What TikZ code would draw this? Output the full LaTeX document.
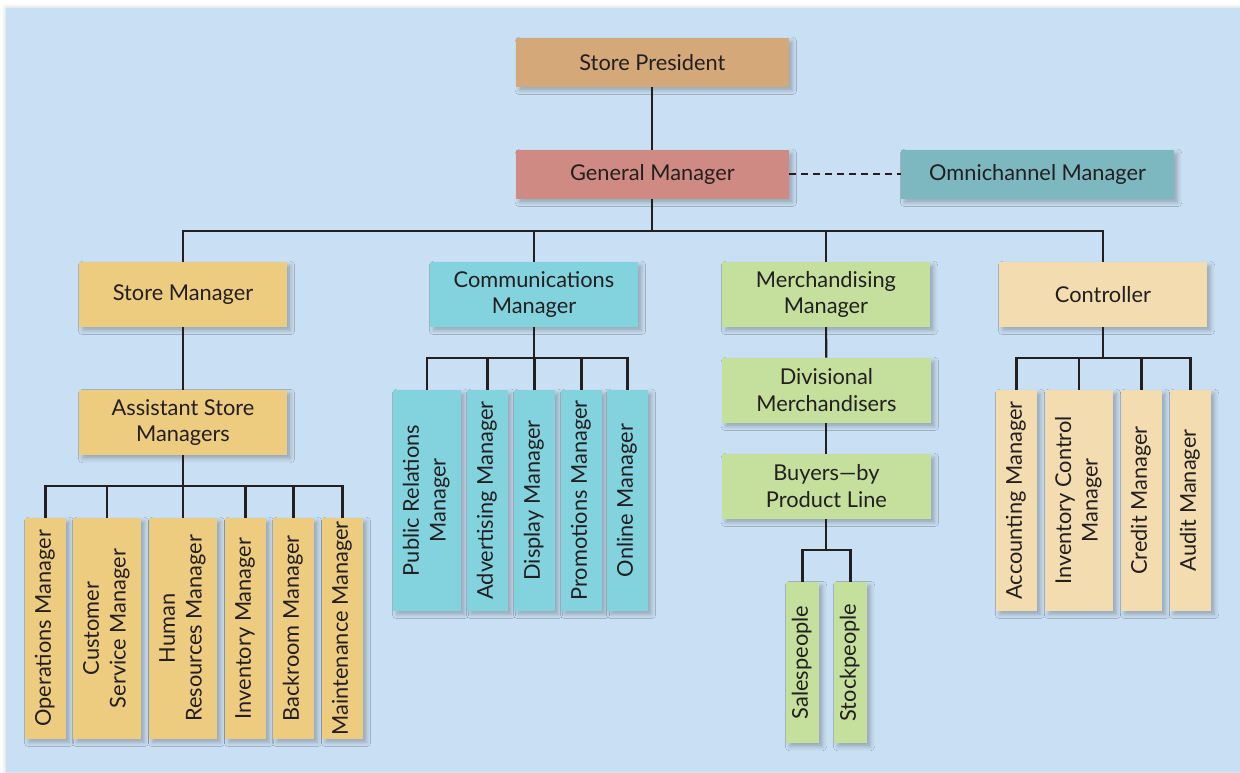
\documentclass[tikz,border=0pt]{standalone}
\usepackage{fontspec}
\setmainfont{Lato}
\usepackage{graphicx}
\usetikzlibrary{shadows.blur}

\definecolor{panelblue}{HTML}{C9DFF3}
\definecolor{inkdark}{HTML}{231F20}
\definecolor{presidenttan}{HTML}{D4A878}
\definecolor{generalred}{HTML}{CF8B83}
\definecolor{omniteal}{HTML}{7DB8C0}
\definecolor{storegold}{HTML}{EDCB7F}
\definecolor{commcyan}{HTML}{83D3DF}
\definecolor{merchgreen}{HTML}{C5DF9D}
\definecolor{controlbeige}{HTML}{F3DDB0}

% text turned to read from the bottom up
\newcommand{\uptext}[1]{\rotatebox{90}{\begin{tabular}{@{}c@{}}#1\end{tabular}}}

\begin{document}
\begin{tikzpicture}[
  font=\fontsize{15.5}{19}\selectfont, text=inkdark,
  post/.style={rectangle, inner sep=2pt, align=center, text=inkdark,
    blur shadow={shadow xshift=2.5pt, shadow yshift=-2.5pt,
      shadow blur radius=3pt, shadow opacity=25}},
  topbox/.style={post, minimum width=6.825cm, minimum height=1.225cm},
  midbox/.style={post, minimum width=5.2cm, minimum height=1.625cm},
  upbox/.style={post, minimum width=1.025cm, minimum height=5.525cm},
  upwide/.style={post, minimum width=1.7cm, minimum height=5.525cm},
  upslim/.style={post, minimum width=0.825cm, minimum height=4.025cm},
  link/.style={draw=inkdark, line width=1.5pt}
]
\useasboundingbox (0,0) rectangle (31,-19.3);

% Background panel
\fill[panelblue, blur shadow={shadow xshift=0pt, shadow yshift=0pt,
  shadow blur radius=3pt, shadow opacity=20}] (0.15,-0.2) rectangle (31,-19.3);

% Bus levels
\coordinate (topbus) at (0,-5.775);
\coordinate (cmbus) at (0,-8.95);
\coordinate (ctbus) at (0,-8.95);
\coordinate (smbus) at (0,-12.15);
\coordinate (mmbus) at (0,-13.75);

% Top of the store
\node[topbox, fill=presidenttan] (pres) at (16.31,-1.56) {Store President};
\node[topbox, fill=generalred] (gm) at (16.31,-4.36) {General Manager};
\node[topbox, fill=omniteal] (omni) at (25.94,-4.36) {Omnichannel Manager};

% Second level
\node[midbox, fill=storegold] (sm) at (4.575,-7.36) {Store Manager};
\node[midbox, fill=commcyan] (cm) at (13.35,-7.36) {Communications\\Manager};
\node[midbox, fill=merchgreen] (mm) at (20.65,-7.36) {Merchandising\\Manager};
\node[midbox, fill=controlbeige] (ct) at (27.575,-7.36) {Controller};

% Store manager branch
\node[midbox, fill=storegold] (asm) at (4.575,-10.5625) {Assistant Store\\Managers};
\node[upbox, fill=storegold] (ops) at (1.1375,-15.71) {\uptext{Operations Manager}};
\node[upwide, fill=storegold] (csm) at (2.675,-15.71) {\uptext{Customer\\Service Manager}};
\node[upwide, fill=storegold] (hrm) at (4.575,-15.71) {\uptext{Human\\Resources Manager}};
\node[upbox, fill=storegold] (inv) at (6.1375,-15.71) {\uptext{Inventory Manager}};
\node[upbox, fill=storegold] (bkr) at (7.3375,-15.71) {\uptext{Backroom Manager}};
\node[upbox, fill=storegold] (mnt) at (8.5625,-15.71) {\uptext{Maintenance Manager}};

% Communications branch
\node[upwide, fill=commcyan] (prm) at (10.675,-12.51) {\uptext{Public Relations\\Manager}};
\node[upbox, fill=commcyan] (adv) at (12.1875,-12.51) {\uptext{Advertising Manager}};
\node[upbox, fill=commcyan] (dsp) at (13.3625,-12.51) {\uptext{Display Manager}};
\node[upbox, fill=commcyan] (prom) at (14.5375,-12.51) {\uptext{Promotions Manager}};
\node[upbox, fill=commcyan] (onl) at (15.6875,-12.51) {\uptext{Online Manager}};

% Merchandising branch
\node[midbox, fill=merchgreen, minimum width=5.225cm] (dm) at (20.66,-9.76) {Divisional\\Merchandisers};
\node[midbox, fill=merchgreen, minimum width=5.225cm] (bpl) at (20.66,-12.16) {Buyers---by\\Product Line};
\node[upslim, fill=merchgreen] (sales) at (20.0625,-16.5625) {\uptext{Salespeople}};
\node[upslim, fill=merchgreen] (stock) at (21.2625,-16.5625) {\uptext{Stockpeople}};

% Controller branch
\node[upbox, fill=controlbeige] (acc) at (25.4125,-12.51) {\uptext{Accounting Manager}};
\node[upwide, fill=controlbeige] (icm) at (26.975,-12.51) {\uptext{Inventory Control\\Manager}};
\node[upbox, fill=controlbeige] (crd) at (28.5375,-12.51) {\uptext{Credit Manager}};
\node[upbox, fill=controlbeige] (aud) at (29.7625,-12.51) {\uptext{Audit Manager}};

% Reporting lines
\draw[link] (pres) -- (gm);
\draw[link, dash pattern=on 5pt off 3.5pt] (gm) -- (omni);
\foreach \n in {sm,cm,mm,ct}
  \draw[link] (gm.south) -- (gm |- topbus) -| (\n.north);
\draw[link] (sm) -- (asm);
\foreach \n in {ops,csm,hrm,inv,bkr,mnt}
  \draw[link] (asm.south) -- (asm |- smbus) -| (\n.north);
\foreach \n in {prm,adv,dsp,prom,onl}
  \draw[link] (cm.south) -- (cm |- cmbus) -| (\n.north);
\draw[link] (mm) -- (dm);
\draw[link] (dm) -- (bpl);
\foreach \n in {sales,stock}
  \draw[link] (bpl.south) -- (bpl |- mmbus) -| (\n.north);
\foreach \n in {acc,icm,crd,aud}
  \draw[link] (ct.south) -- (ct |- ctbus) -| (\n.north);
\end{tikzpicture}
\end{document}
